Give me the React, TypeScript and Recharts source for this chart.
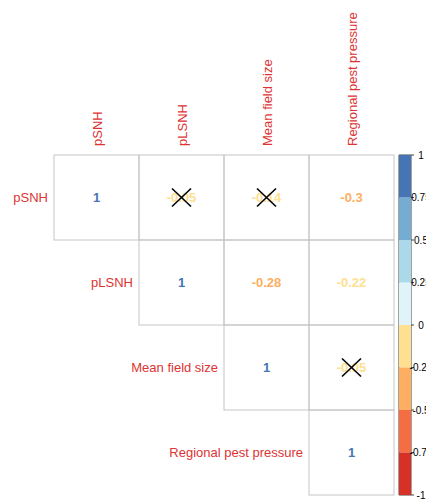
import {
  ScatterChart,
  Scatter,
  BarChart,
  Bar,
  XAxis,
  YAxis,
  ReferenceArea,
} from 'recharts';

const variables = ['pSNH', 'pLSNH', 'Mean field size', 'Regional pest pressure'];

// upper triangle of the correlation matrix, one array per row (starting at the diagonal)
const corrPSNH = [1, -0.05, -0.14, -0.3];
const corrPLSNH = [1, -0.28, -0.22];
const corrMeanField = [1, -0.05];
const corrRegional = [1];

// [row, col] pairs that are not significant (crossed out)
const insignificant = [
  [0, 1],
  [0, 2],
  [2, 3],
];

const legendBreaks = [-1, -0.75, -0.5, -0.25, 0, 0.25, 0.5, 0.75, 1];
const legendColors = [
  '#D73027',
  '#F46D43',
  '#FDAE61',
  '#FEE090',
  '#E0F3F8',
  '#ABD9E9',
  '#74ADD1',
  '#4575B4',
];

const W = 426;
const H = 499;
const CELL = 85;
const FONT = '"Liberation Sans", Arial, sans-serif';
const LABEL_RED = '#DD3333';
const GRID = '#C6C6C6';

const rows = [corrPSNH, corrPLSNH, corrMeanField, corrRegional];

const cells = rows.flatMap((vals, r) =>
  vals.map((value, k) => {
    const c = r + k;
    return {
      x: c + 0.5,
      y: r + 0.5,
      r,
      c,
      value,
      cross: insignificant.some(([a, b]) => a === r && b === c),
    };
  })
);

function colorFor(v: number) {
  for (let i = 0; i < legendColors.length; i++) {
    if (v >= legendBreaks[i] && v < legendBreaks[i + 1]) return legendColors[i];
  }
  return legendColors[legendColors.length - 1];
}

const legendRow: Record<string, number | string> = { name: 'legend' };
legendColors.forEach((_, i) => {
  legendRow[`s${i}`] = legendBreaks[i] < 0
    ? legendBreaks[i] - legendBreaks[i + 1]
    : legendBreaks[i + 1] - legendBreaks[i];
});
const legendData = [legendRow];
// negatives stack downward from 0, positives upward from 0
const legendOrder = [3, 2, 1, 0, 4, 5, 6, 7];

function CellShape(props: any) {
  const { cx, cy, payload } = props;
  const h = CELL / 2;
  const label = String(Number(payload.value.toFixed(2)));
  return (
    <g>
      <rect x={cx - h} y={cy - h} width={CELL} height={CELL} fill="none" stroke={GRID} strokeWidth={1} />
      <text
        x={cx}
        y={cy}
        dy={4.5}
        textAnchor="middle"
        fontFamily={FONT}
        fontSize={13}
        fontWeight="bold"
        fill={colorFor(payload.value)}
      >
        {label}
      </text>
      {payload.cross && (
        <g stroke="#000" strokeWidth={1.6}>
          <line x1={cx - 9.5} y1={cy - 9} x2={cx + 9.5} y2={cy + 9} />
          <line x1={cx - 9.5} y1={cy + 9} x2={cx + 9.5} y2={cy - 9} />
        </g>
      )}
      {payload.r === payload.c && (
        <text
          x={cx - h - 6}
          y={cy}
          dy={4.5}
          textAnchor="end"
          fontFamily={FONT}
          fontSize={13}
          fill={LABEL_RED}
        >
          {variables[payload.r]}
        </text>
      )}
      {payload.r === 0 && (
        <text
          x={cx + 5}
          y={cy - h - 9}
          transform={`rotate(-90 ${cx + 5} ${cy - h - 9})`}
          textAnchor="start"
          fontFamily={FONT}
          fontSize={13}
          fill={LABEL_RED}
        >
          {variables[payload.c]}
        </text>
      )}
    </g>
  );
}

function LegendTick(props: any) {
  const { x, y, payload } = props;
  return (
    <text x={x + 5} y={y} dy={3.5} textAnchor="middle" fontFamily={FONT} fontSize={10} fill="#000">
      {String(payload.value)}
    </text>
  );
}

export default function App() {
  return (
    <div style={{ position: 'absolute', left: 0, top: 0, width: W, height: H, background: '#fff' }}>
      <div style={{ position: 'absolute', left: 0, top: 0 }}>
        <ScatterChart width={W} height={H} margin={{ top: 155, right: 32, bottom: 4, left: 54 }}>
          <XAxis type="number" dataKey="x" domain={[0, 4]} hide />
          <YAxis type="number" dataKey="y" domain={[0, 4]} reversed hide />
          <Scatter data={cells} shape={CellShape} isAnimationActive={false} />
        </ScatterChart>
      </div>
      <div style={{ position: 'absolute', left: 0, top: 0 }}>
        <BarChart
          width={W}
          height={H}
          data={legendData}
          stackOffset="sign"
          barCategoryGap={0}
          margin={{ top: 155, right: 0, bottom: 4, left: 399 }}
        >
          <XAxis dataKey="name" hide />
          <YAxis
            orientation="right"
            type="number"
            domain={[-1, 1]}
            ticks={legendBreaks}
            interval={0}
            width={15}
            axisLine={false}
            tickLine={{ stroke: '#444' }}
            tickSize={3}
            tickMargin={2}
            tick={LegendTick}
          />
          {legendOrder.map((i) => (
            <Bar key={i} dataKey={`s${i}`} stackId="a" fill={legendColors[i]} isAnimationActive={false} />
          ))}
          <ReferenceArea y1={-1} y2={1} fill="none" stroke="#444" strokeWidth={1} ifOverflow="visible" />
        </BarChart>
      </div>
    </div>
  );
}
